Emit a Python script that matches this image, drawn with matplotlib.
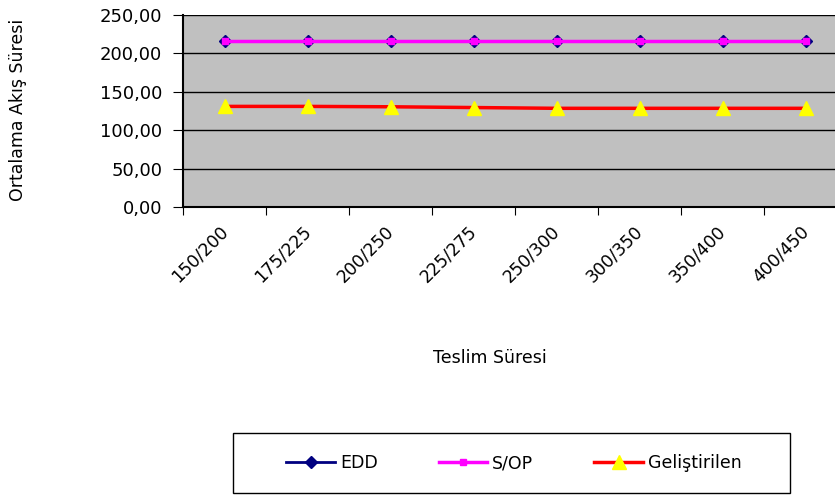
import matplotlib
matplotlib.use("Agg")
import matplotlib.pyplot as plt
import matplotlib.transforms as mtransforms
from matplotlib.patches import Rectangle
import numpy as np

categories = ["150/200", "175/225", "200/250", "225/275", "250/300", "300/350", "350/400", "400/450"]
edd = [216, 216, 216, 216, 216, 216, 216, 216]
sop = [216, 216, 216, 216, 216, 216, 216, 216]
gelistirilen = [131, 131, 130.5, 129.5, 128.5, 128.5, 128.5, 128.5]

plt.rcParams['font.family'] = ['DejaVu Sans']
fig = plt.figure(figsize=(8.35, 4.95), dpi=100)
ax = fig.add_axes([183/835, 1-207/495, (847-183)/835, 192/495])
ax.set_facecolor('#C0C0C0')

x = np.arange(len(categories))
l1, = ax.plot(x, edd, color='#000080', lw=2, marker='D', ms=6, mfc='#000080', mec='#000080', label='EDD', zorder=3)
l2, = ax.plot(x, sop, color='#FF00FF', lw=2.5, marker='s', ms=5, mfc='#FF00FF', mec='#FF00FF', label='S/OP', zorder=4)
l3, = ax.plot(x, gelistirilen, color='#FF0000', lw=2.5, marker='^', ms=10, mfc='#FFFF00', mec='#FFFF00', label='Geliştirilen', zorder=3)

ax.set_xlim(-0.5, len(categories) - 0.5)
ax.set_ylim(0, 250)
ax.set_yticks([0, 50, 100, 150, 200, 250])
ax.set_yticklabels(["0,00", "50,00", "100,00", "150,00", "200,00", "250,00"], fontsize=13)
ax.yaxis.grid(True, color='black', lw=1)
ax.set_axisbelow(True)

ax.set_xticks(np.arange(len(categories) + 1) - 0.5)
ax.set_xticklabels([])
ax.set_xticks(x, minor=True)
ax.set_xticklabels(categories, minor=True, rotation=45, ha='right', va='top',
                   rotation_mode='anchor', fontsize=12.5)
ax.tick_params(axis='x', which='minor', length=0, pad=11)
ax.tick_params(axis='x', which='major', length=6, direction='out', color='black')
ax.tick_params(axis='y', length=7, direction='out', color='black', pad=8)
offset = mtransforms.ScaledTranslation(-6/100, 0, fig.dpi_scale_trans)
for lab in ax.get_xticklabels(minor=True):
    lab.set_transform(lab.get_transform() + offset)

for s in ['top', 'right']:
    ax.spines[s].set_visible(False)
ax.spines['left'].set_color('black')
ax.spines['bottom'].set_color('black')
ax.spines['left'].set_linewidth(1.5)
ax.spines['bottom'].set_linewidth(1.5)

fig.text(490/835, 1-358/495, "Teslim Süresi", ha='center', va='center', fontsize=12.5)
fig.text(18/835, 1-110/495, "Ortalama Akış Süresi", ha='center', va='center', rotation=90, fontsize=12.5)

leg = fig.legend(handles=[l1, l2, l3], loc='center', bbox_to_anchor=(514/835, 1-463/495),
                 ncol=3, frameon=False, fontsize=12.5,
                 handlelength=2.8, columnspacing=3.5, handletextpad=0.3)
fig.patches.append(Rectangle((233/835, 1-493/495), (790-233)/835, 60/495,
                             transform=fig.transFigure, fill=False, edgecolor='black', lw=1))

fig.savefig("out.png", dpi=100)
